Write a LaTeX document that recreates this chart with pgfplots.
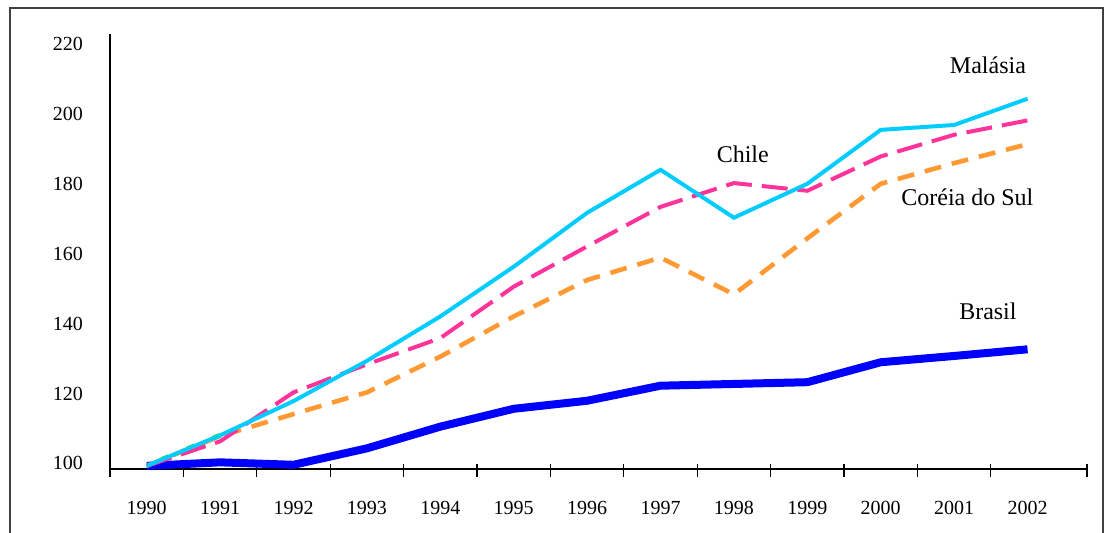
\documentclass[border=0pt]{standalone}
\usepackage{pgfplots}
\pgfplotsset{compat=1.18}
\usepackage{fontspec}
\setmainfont{Liberation Serif}

\definecolor{malasia}{RGB}{0,204,255}
\definecolor{chile}{RGB}{255,51,153}
\definecolor{coreia}{RGB}{255,153,51}
\definecolor{brasil}{RGB}{0,0,255}
\definecolor{verde}{RGB}{0,230,0}

\begin{document}
\begin{tikzpicture}
\path[use as bounding box] (0,0) rectangle (553.5pt,266.5pt);
% outer frame
\draw[black!75, line width=0.6pt] (5pt,-5pt) -- (5pt,262.5pt) -- (551.5pt,262.5pt) -- (551.5pt,-5pt);
\begin{axis}[
  at={(55pt,32pt)}, anchor=south west,
  scale only axis, width=488.5pt, height=217.5pt,
  xmin=-0.5, xmax=12.81, ymin=99.1, ymax=223.4,
  axis x line*=bottom, axis y line*=left,
  axis line style={-, black, line width=0.6pt},
  xtick={0,1,2,3,4,5,6,7,8,9,10,11,12},
  xticklabels={1990,1991,1992,1993,1994,1995,1996,1997,1998,1999,2000,2001,2002},
  minor xtick={-0.5,0.5,1.5,2.5,3.5,4.5,5.5,6.5,7.5,8.5,9.5,10.5,11.5,12.81},
  ytick={100,120,140,160,180,200,220},
  major tick length=0pt, minor tick length=6.5pt,
  tick align=center,
  minor tick style={black, line width=0.6pt, yshift=-0.6pt},
  tick label style={font=\fontsize{10}{12}\selectfont},
  xticklabel style={yshift=-12.5pt},
  yticklabel style={xshift=-10pt, yshift=1.2pt},
  /pgf/number format/assume math mode=true,
  clip=false,
]
% Brasil
\addplot[brasil, line width=4pt] coordinates {
  (0,100) (1,101) (2,100.3) (3,105) (4,111.2) (5,116.3) (6,118.6)
  (7,122.9) (8,123.4) (9,123.9) (10,129.6) (11,131.4) (12,133.3)};
% green series, almost entirely hidden beneath Malasia
\addplot[verde, line width=2.5pt, dash pattern=on 4pt off 10pt, dash phase=-8pt] coordinates {
  (0,100) (1,108.7)};
% Coreia do Sul
\addplot[coreia, line width=2.3pt, dash pattern=on 8.5pt off 5.5pt] coordinates {
  (0,100) (1,108.5) (2,114.8) (3,121) (4,131.2) (5,142.7) (6,153.1)
  (7,159.5) (8,149) (9,165) (10,180.6) (11,186.5) (12,191.9)};
% Chile
\addplot[chile, line width=2pt, dash pattern=on 13pt off 5pt] coordinates {
  (0,100) (1,107) (2,121) (3,129) (4,136.5) (5,151.2) (6,162.7)
  (7,174) (8,180.8) (9,178.6) (10,188.4) (11,194.6) (12,198.7)};
% Malasia
\addplot[malasia, line width=2pt] coordinates {
  (0,100) (1,108.7) (2,118.5) (3,130) (4,142.7) (5,156.9) (6,172.3)
  (7,184.6) (8,170.9) (9,180.6) (10,196) (11,197.4) (12,204.9)};

\node[font=\fontsize{12}{14}\selectfont] at (axis cs:11.46,214.6) {Malásia};
\node[font=\fontsize{12}{14}\selectfont] at (axis cs:8.12,189.1) {Chile};
\node[font=\fontsize{12}{14}\selectfont] at (axis cs:11.18,176.8) {Coréia do Sul};
\node[font=\fontsize{12}{14}\selectfont] at (axis cs:11.46,144.3) {Brasil};
\end{axis}
\end{tikzpicture}
\end{document}
